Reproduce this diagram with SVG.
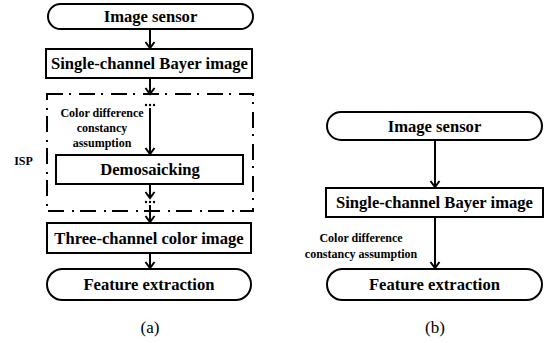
<svg xmlns="http://www.w3.org/2000/svg" width="546" height="343" viewBox="0 0 546 343">
<style>
.box{fill:#fff;stroke:#000;stroke-width:2}
.isp{fill:none;stroke:#000;stroke-width:2;stroke-dasharray:16 6 2 8}
text{font-family:'Liberation Serif','Times New Roman',serif;fill:#000;text-anchor:middle}
.t{font-weight:bold;font-size:16.6px}
.s{font-weight:bold;font-size:12px}
.cap{font-size:17px}
.c{stroke:#000;stroke-width:2;fill:none}
</style>
<defs>
<marker id="ah" markerUnits="userSpaceOnUse" markerWidth="14" markerHeight="14" viewBox="-7 -7 14 14" refX="0" refY="0" orient="auto">
<path d="M-6,-4.5 L0,0 L-6,4.5" fill="none" stroke="#000" stroke-width="2"/>
</marker>
</defs>
<rect width="546" height="343" fill="#fff"/>
<g id="isp">
<rect class="isp" x="47" y="94" width="206" height="117"/>
<text class="s" x="23.5" y="165">ISP</text>
</g>
<g id="a-sensor">
<rect class="box" x="48" y="4" width="205" height="25" rx="12.5"/>
<text class="t" x="150.5" y="22">Image sensor</text>
</g>
<g id="a-bayer">
<rect class="box" x="46" y="49" width="206" height="29"/>
<text class="t" x="149.5" y="69">Single-channel Bayer image</text>
</g>
<g id="a-demosaic">
<rect class="box" x="56" y="155" width="187" height="29"/>
<text class="t" x="150" y="175">Demosaicking</text>
</g>
<g id="a-three">
<rect class="box" x="47" y="223" width="204" height="30"/>
<text class="t" x="149" y="243.5">Three-channel color image</text>
</g>
<g id="a-feature">
<rect class="box" x="47" y="269" width="204" height="31" rx="15.5"/>
<text class="t" x="149" y="290">Feature extraction</text>
</g>
<g id="b-sensor">
<rect class="box" x="327" y="112" width="215" height="28" rx="14"/>
<text class="t" x="434.5" y="132">Image sensor</text>
</g>
<g id="b-bayer">
<rect class="box" x="326" y="188" width="217" height="29"/>
<text class="t" x="434.5" y="208">Single-channel Bayer image</text>
</g>
<g id="b-feature">
<rect class="box" x="327" y="269" width="215" height="31" rx="15.5"/>
<text class="t" x="434.5" y="290">Feature extraction</text>
</g>
<g id="connectors">
<line class="c" x1="150" y1="29" x2="150" y2="48" marker-end="url(#ah)"/>
<line class="c" x1="150" y1="78" x2="150" y2="94" marker-end="url(#ah)"/>
<circle cx="146" cy="105" r="1.2"/><circle cx="150" cy="105" r="1.2"/><circle cx="154" cy="105" r="1.2"/>
<line class="c" x1="150" y1="108" x2="150" y2="154" marker-end="url(#ah)"/>
<line class="c" x1="150" y1="184" x2="150" y2="198" marker-end="url(#ah)"/>
<circle cx="146" cy="202" r="1.2"/><circle cx="150" cy="202" r="1.2"/><circle cx="154" cy="202" r="1.2"/>
<line class="c" x1="150" y1="205" x2="150" y2="222" marker-end="url(#ah)"/>
<line class="c" x1="150" y1="253" x2="150" y2="268" marker-end="url(#ah)"/>
<line class="c" x1="435" y1="140" x2="435" y2="187" marker-end="url(#ah)"/>
<line class="c" x1="435" y1="217" x2="435" y2="268" marker-end="url(#ah)"/>
<text class="s" x="102" y="117">Color difference</text>
<text class="s" x="102" y="132">constancy</text>
<text class="s" x="102" y="147">assumption</text>
<text class="s" x="361" y="242">Color difference</text>
<text class="s" x="361" y="258">constancy assumption</text>
</g>
<text class="cap" x="150" y="333">(a)</text>
<text class="cap" x="435" y="333">(b)</text>
</svg>
